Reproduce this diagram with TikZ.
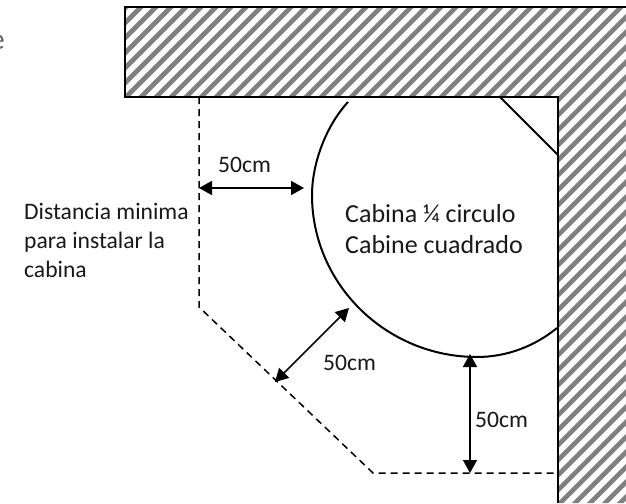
\documentclass[tikz,border=0pt]{standalone}
\usepackage{fontspec}
\setmainfont{Carlito}
\usetikzlibrary{arrows.meta}
\tikzset{
  wallline/.style={line width=2pt,black},
  hatchline/.style={line width=4.6pt,black!50},
  limitline/.style={line width=1.5pt,dash pattern=on 7pt off 5pt},
  gaparrow/.style={line width=1.6pt,{Triangle[length=13pt,width=14pt]}-{Triangle[length=13pt,width=14pt]}},
  lbl/.style={anchor=base west,inner sep=0pt,font=\fontsize{23.6}{26}\selectfont,text=black!90},
  lblbig/.style={lbl,font=\fontsize{26}{28}\selectfont},
}
\begin{document}
\begin{tikzpicture}[x=1pt,y=-1pt]
\useasboundingbox (0,0) rectangle (626,503);
\fill[white] (0,0) rectangle (626,503);
\begin{scope}
  \clip (125,7) -- (626,7) -- (626,503) -- (558,503) -- (558,97) -- (125,97) -- cycle;
  \foreach \i in {0,...,70} {
    \pgfmathsetmacro{\k}{133+15*\i}
    \draw[hatchline] (\k,0) -- (\k-510,510);
  }
\end{scope}
\draw[wallline] (626,7) -- (125,7) -- (125,97) -- (558,97) -- (558,503);
\draw[wallline] (500,97) -- (558,155);
\draw[line width=2pt] (348,102) .. controls (325,127) and (312,165) .. (312,195)
  .. controls (312,284) and (386,357) .. (477,357)
  .. controls (507,357) and (535,346) .. (557,328);
\coordinate (a) at (199,97);
\coordinate (b) at (199,307);
\coordinate (c) at (373,473);
\coordinate (d) at (558,473);
\draw[limitline] (a) -- (b) -- (c) -- (d);
\coordinate (g1a) at (199,188); \coordinate (g1b) at (304,188);
\coordinate (g2a) at (275,382); \coordinate (g2b) at (349,308);
\coordinate (g3a) at (470,354); \coordinate (g3b) at (470,473);
\draw[gaparrow] (g1a) -- (g1b);
\draw[gaparrow] (g2a) -- (g2b);
\draw[gaparrow] (g3a) -- (g3b);
\node[lbl] (t1) at (218,172) {50cm};
\node[lbl] (t2) at (323,370) {50cm};
\node[lbl] (t3) at (475,427) {50cm};
\node[lblbig] (c1) at (345,222) {Cabina ¼ circulo};
\node[lblbig] (c2) at (345,253) {Cabine cuadrado};
\node[lbl] (d1) at (24,219) {Distancia minima};
\node[lbl] (d2) at (24,248) {para instalar la};
\node[lbl] (d3) at (24,277) {cabina};
\node[anchor=base east,inner sep=0pt,font=\fontsize{30}{32}\selectfont,text=black!60] (frag) at (5,50) {e};
\end{tikzpicture}
\end{document}
